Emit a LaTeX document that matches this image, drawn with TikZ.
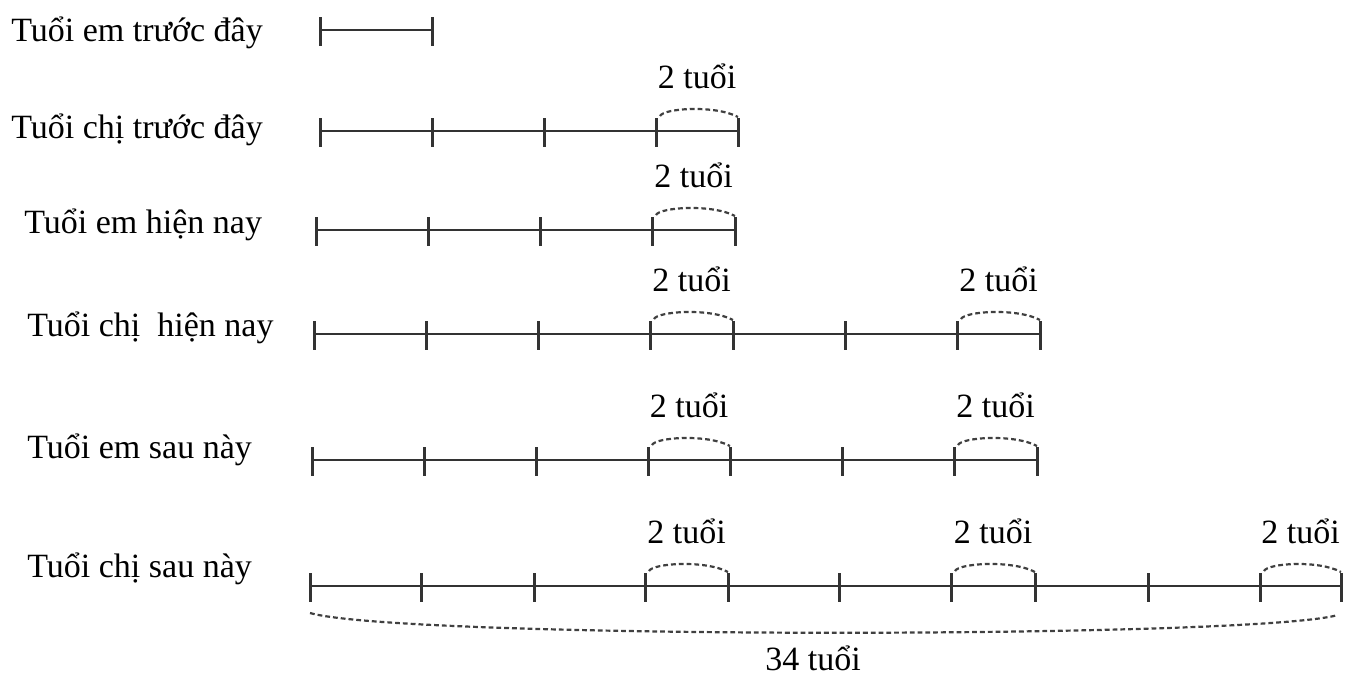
\documentclass[tikz,border=0pt]{standalone}
\usepackage{fontspec}
\setmainfont{Liberation Serif}
\usepackage{tikz}
\usetikzlibrary{calc}

\begin{document}
\begin{tikzpicture}[x=0.5pt,y=-0.5pt]
		\tikzset{
			bar/.style={line width=1pt,draw=black!80},
			tickmark/.style={line width=1.5pt,draw=black!80},
			gap/.style={line width=1.1pt,draw=black!75,dash pattern=on 2.4pt off 1.5pt},
			lbl/.style={font=\fontsize{17}{20}\selectfont,inner sep=0pt},
		}
		\useasboundingbox (0,0) rectangle (1351,675);
		% tick positions of every row
		\foreach \r/\y/\xs in {1/30/{320,432},
				2/131/{320,432,544,656,738},
				3/230/{316,428,540,652,735},
				4/334/{314,426,538,650,733,845,957,1040},
				5/460/{312,424,536,648,730,842,954,1037},
				6/586/{310,421,534,645,728,839,951,1035,1148,1260,1341}}{
				\foreach \x [count=\i] in \xs{
						\coordinate (r\r-\i) at (\x,\y);
						\draw[tickmark] ($(r\r-\i)+(0,-13)$) -- ($(r\r-\i)+(0,16)$);
					}
			}
		\draw[bar] (r1-1) -- (r1-2);
		\draw[bar] (r2-1) -- (r2-5);
		\draw[bar] (r3-1) -- (r3-5);
		\draw[bar] (r4-1) -- (r4-8);
		\draw[bar] (r5-1) -- (r5-8);
		\draw[bar] (r6-1) -- (r6-11);

		% row names
		\node[lbl,anchor=base west] (n1) at (11,41) {Tuổi em trước đây};
		\node[lbl,anchor=base west] (n2) at (11,138) {Tuổi chị trước đây};
		\node[lbl,anchor=base west] (n3) at (24,233) {Tuổi em hiện nay};
		\node[lbl,anchor=base west] (n4) at (27,336) {Tuổi chị ~hiện nay};
		\node[lbl,anchor=base west] (n5) at (27,458) {Tuổi em sau này};
		\node[lbl,anchor=base west] (n6) at (27,577) {Tuổi chị sau này};

		% the 2-year pieces
		\foreach \a/\b in {r2-4/r2-5,r3-4/r3-5,r4-4/r4-5,r4-7/r4-8,r5-4/r5-5,r5-7/r5-8,r6-4/r6-5,r6-7/r6-8,r6-10/r6-11}{
				\draw[gap] ($(\a)+(4,-15)$) .. controls ($(\a)+(8,-23)$) and ($(\b)+(-22,-26)$) .. ($(\b)+(0,-14)$);
				\node[lbl,anchor=base] (two-\a) at ($(\a)!0.5!(\b)+(0,-43)$) {2 tuổi};
			}

		% total
		\draw[gap] ($(r6-1)+(0,27)$) .. controls ($(r6-1)+(90,53)$) and ($(r6-11)+(-90,53)$) .. ($(r6-11)+(-3,29)$);
		\node[lbl,anchor=base] (total) at (813,670) {34 tuổi};
	\end{tikzpicture}
\end{document}
